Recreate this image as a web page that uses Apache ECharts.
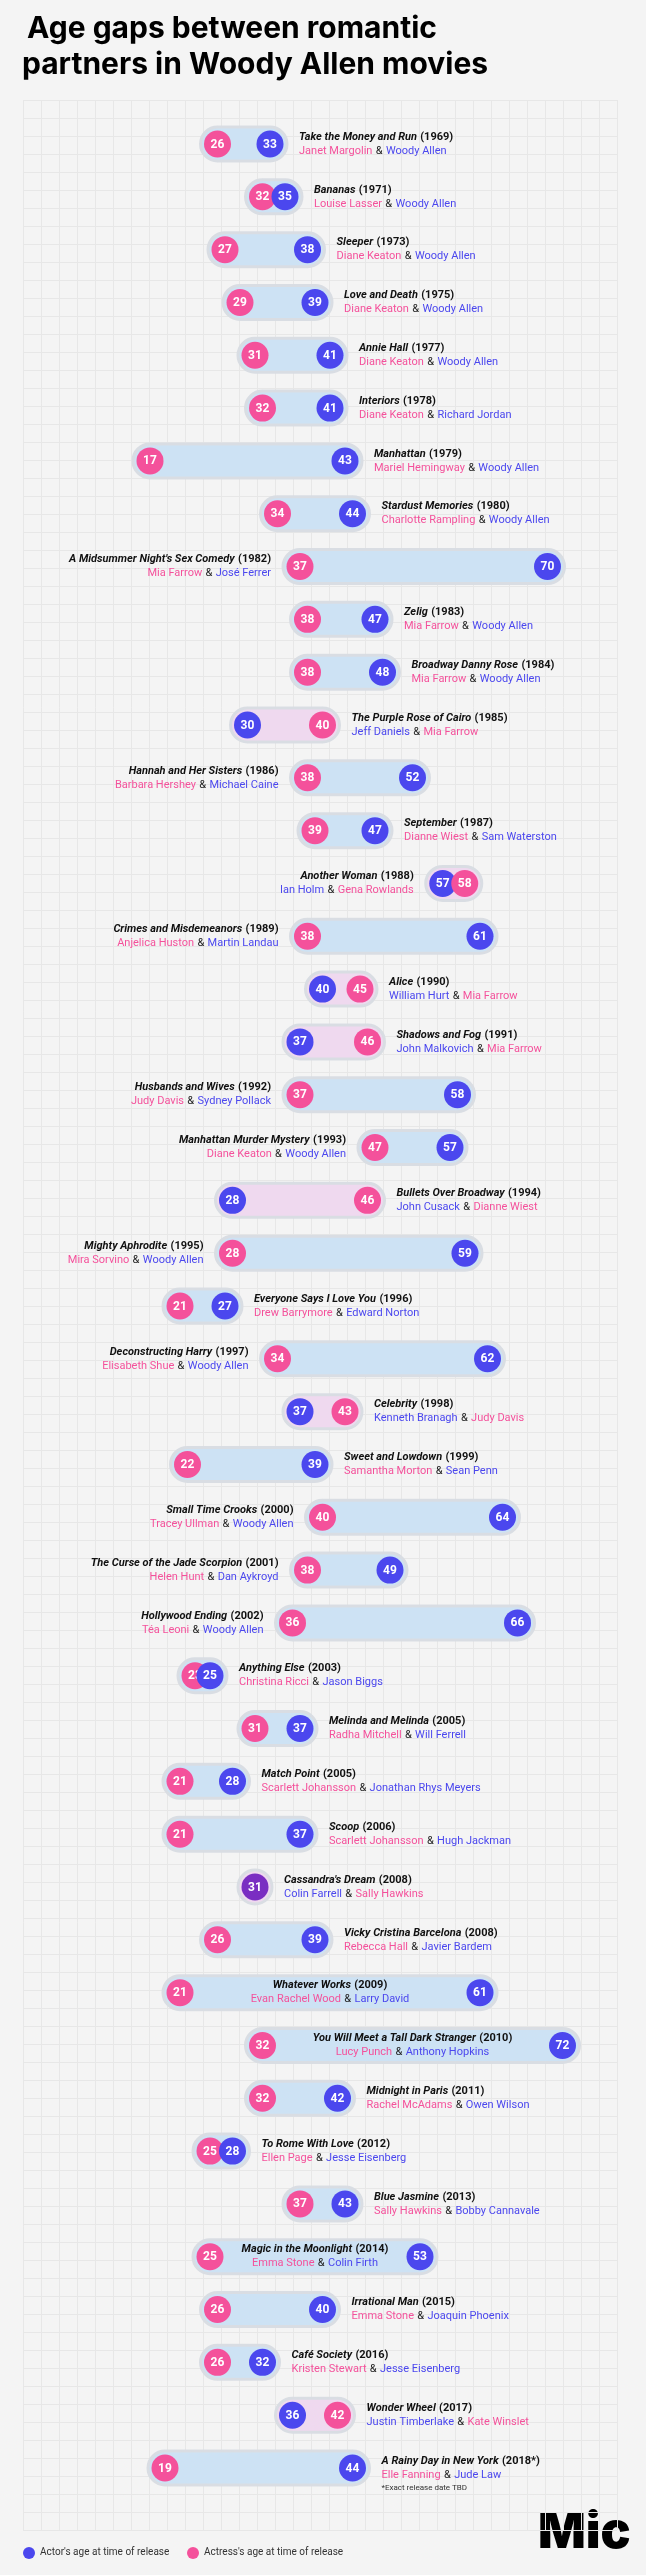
<!DOCTYPE html>
<html><head><meta charset="utf-8">
<script src="https://cdn.jsdelivr.net/npm/echarts@6/dist/echarts.min.js"></script>
<style>html,body{margin:0;padding:0;background:#f4f4f4}#c{width:646px;height:2575px}</style>
</head><body><div id="c"></div>
<script>
const titles=["Take the Money and Run","Bananas","Sleeper","Love and Death","Annie Hall","Interiors","Manhattan","Stardust Memories","A Midsummer Night's Sex Comedy","Zelig","Broadway Danny Rose","The Purple Rose of Cairo","Hannah and Her Sisters","September","Another Woman","Crimes and Misdemeanors","Alice","Shadows and Fog","Husbands and Wives","Manhattan Murder Mystery","Bullets Over Broadway","Mighty Aphrodite","Everyone Says I Love You","Deconstructing Harry","Celebrity","Sweet and Lowdown","Small Time Crooks","The Curse of the Jade Scorpion","Hollywood Ending","Anything Else","Melinda and Melinda","Match Point","Scoop","Cassandra's Dream","Vicky Cristina Barcelona","Whatever Works","You Will Meet a Tall Dark Stranger","Midnight in Paris","To Rome With Love","Blue Jasmine","Magic in the Moonlight","Irrational Man","Café Society","Wonder Wheel","A Rainy Day in New York"];
const years=["1969","1971","1973","1975","1977","1978","1979","1980","1982","1983","1984","1985","1986","1987","1988","1989","1990","1991","1992","1993","1994","1995","1996","1997","1998","1999","2000","2001","2002","2003","2005","2005","2006","2008","2008","2009","2010","2011","2012","2013","2014","2015","2016","2017","2018*"];
const actresses=["Janet Margolin","Louise Lasser","Diane Keaton","Diane Keaton","Diane Keaton","Diane Keaton","Mariel Hemingway","Charlotte Rampling","Mia Farrow","Mia Farrow","Mia Farrow","Mia Farrow","Barbara Hershey","Dianne Wiest","Gena Rowlands","Anjelica Huston","Mia Farrow","Mia Farrow","Judy Davis","Diane Keaton","Dianne Wiest","Mira Sorvino","Drew Barrymore","Elisabeth Shue","Judy Davis","Samantha Morton","Tracey Ullman","Helen Hunt","Téa Leoni","Christina Ricci","Radha Mitchell","Scarlett Johansson","Scarlett Johansson","Sally Hawkins","Rebecca Hall","Evan Rachel Wood","Lucy Punch","Rachel McAdams","Ellen Page","Sally Hawkins","Emma Stone","Emma Stone","Kristen Stewart","Kate Winslet","Elle Fanning"];
const actors=["Woody Allen","Woody Allen","Woody Allen","Woody Allen","Woody Allen","Richard Jordan","Woody Allen","Woody Allen","José Ferrer","Woody Allen","Woody Allen","Jeff Daniels","Michael Caine","Sam Waterston","Ian Holm","Martin Landau","William Hurt","John Malkovich","Sydney Pollack","Woody Allen","John Cusack","Woody Allen","Edward Norton","Woody Allen","Kenneth Branagh","Sean Penn","Woody Allen","Dan Aykroyd","Woody Allen","Jason Biggs","Will Ferrell","Jonathan Rhys Meyers","Hugh Jackman","Colin Farrell","Javier Bardem","Larry David","Anthony Hopkins","Owen Wilson","Jesse Eisenberg","Bobby Cannavale","Colin Firth","Joaquin Phoenix","Jesse Eisenberg","Justin Timberlake","Jude Law"];
const actressAges=[26,32,27,29,31,32,17,34,37,38,38,40,38,39,58,38,45,46,37,47,46,28,21,34,43,22,40,38,36,23,31,21,21,31,26,21,32,32,25,37,25,26,26,42,19];
const actorAges=[33,35,38,39,41,41,43,44,70,47,48,30,52,47,57,61,40,37,58,57,28,59,27,62,37,39,64,49,66,25,37,28,37,31,39,61,72,42,28,43,53,40,32,36,44];
// label placement: r = right, l = left, c = inside
const labelPos=["r","r","r","r","r","r","r","r","l","r","r","r","l","r","l","l","r","r","l","l","r","l","r","l","r","r","l","l","l","r","r","r","r","r","r","c","c","r","r","r","c","r","r","r","r"];
const footnote="*Exact release date TBD";

const PINK='#f4519b',BLUE='#4b47ee',PURPLE='#7a2dc2';
const rows=titles.map((t,i)=>[i]);
const chart=echarts.init(document.getElementById('c'),null,{renderer:'canvas'});

function renderItem(params,api){
  const i=api.value(0);
  const fa=actressAges[i], ma=actorAges[i];
  const pf=api.coord([fa,i]), pm=api.coord([ma,i]);
  const y=pf[1];
  let xf=pf[0], xm=pm[0];
  const same = ma===fa;
  if(!same && Math.abs(xf-xm)<12){
    const mid=(xf+xm)/2, s=xf<xm?-1:1;
    xf=mid+s*11; xm=mid-s*11;
  }
  const lo=Math.min(xf,xm), hi=Math.max(xf,xm);
  const reversed = ma<fa;
  const ch=[];
  const L=lo-17, R=hi+17;
  ch.push({type:'rect',shape:{x:L,y:y-17,width:R-L,height:34,r:17},style:{fill:reversed||same?'#efd9ef':'#cde2f4',stroke:'#d9dde3',lineWidth:3}});
  const circ=(x,col,txt)=>{
    ch.push({type:'circle',shape:{cx:x,cy:y,r:13.5},style:{fill:col}});
    ch.push({type:'text',style:{text:String(txt),x:x,y:y+0.5,align:'center',verticalAlign:'middle',fill:'#fff',font:'bold 12px Roboto'}});
  };
  if(same){circ(xf,PURPLE,fa);}
  else{
    const items=[[xf,PINK,fa],[xm,BLUE,ma]].sort((a,b)=>a[0]-b[0]);
    items.forEach(it=>circ(it[0],it[1],it[2]));
  }
  const actorFirst = reversed || same;
  const n1 = actorFirst?actors[i]:actresses[i], n2 = actorFirst?actresses[i]:actors[i];
  const c1 = actorFirst?'a':'b', c2 = actorFirst?'b':'a';
  const pos=labelPos[i];
  let x, align;
  if(pos==='r'){x=R+12;align='left';}
  else if(pos==='l'){x=L-12;align='right';}
  else {x=(lo+hi)/2;align='center';}
  const rich={t:{font:'italic bold 11px Roboto',fill:'#111'},yr:{font:'bold 11px Roboto',fill:'#111'},
    a:{font:'11px Roboto',fill:BLUE},b:{font:'11px Roboto',fill:PINK},amp:{font:'11px Roboto',fill:'#222'}};
  ch.push({type:'text',style:{text:'{t|'+titles[i]+'} {yr|('+years[i]+')}',rich:rich,x:x,y:y-7,align:align,verticalAlign:'middle'}});
  ch.push({type:'text',style:{text:'{'+c1+'|'+n1+'} {amp|&} {'+c2+'|'+n2+'}',rich:rich,x:x,y:y+7,align:align,verticalAlign:'middle'}});
  if(i===titles.length-1){
    ch.push({type:'text',style:{text:footnote,x:x,y:y+20,align:align,verticalAlign:'middle',font:'8px Roboto',fill:'#333'}});
  }
  return {type:'group',children:ch};
}

chart.setOption({
  backgroundColor:'#f4f4f4',
  animation:false,
  grid:[{left:22.5,width:600,top:144,height:2324},{left:23,width:594,top:100,height:2430}],
  xAxis:[{type:'value',min:0,max:80,show:false,gridIndex:0},
         {type:'value',min:0,max:594,interval:18,gridIndex:1,axisLabel:{show:false},axisLine:{show:false},axisTick:{show:false},splitLine:{show:true,lineStyle:{color:'#e7e7e7',width:1}}}],
  yAxis:[{type:'value',min:0,max:44,inverse:true,show:false,gridIndex:0},
         {type:'value',min:0,max:2430,interval:18,gridIndex:1,axisLabel:{show:false},axisLine:{show:false},axisTick:{show:false},splitLine:{show:true,lineStyle:{color:'#e7e7e7',width:1}}}],
  series:[{type:'custom',xAxisIndex:0,yAxisIndex:0,renderItem:renderItem,data:rows,z:10}],
  graphic:[
    {type:'text',left:27,top:14,style:{text:'Age gaps between romantic',font:'bold 30px Inter',fill:'#000'}},
    {type:'text',left:22,top:50,style:{text:'partners in Woody Allen movies',font:'bold 30px Inter',fill:'#000'}},
    {type:'circle',shape:{cx:29,cy:2553,r:6},style:{fill:BLUE}},
    {type:'text',left:40,top:2547,style:{text:"Actor's age at time of release",font:'10px Roboto',fill:'#333'}},
    {type:'circle',shape:{cx:193,cy:2553,r:6},style:{fill:PINK}},
    {type:'text',left:204,top:2547,style:{text:"Actress's age at time of release",font:'10px Roboto',fill:'#333'}},
    {type:'text',left:538,top:2508,style:{text:'Mic',font:'900 50px Inter',fill:'#000'}}
  ]
});
</script></body></html>
